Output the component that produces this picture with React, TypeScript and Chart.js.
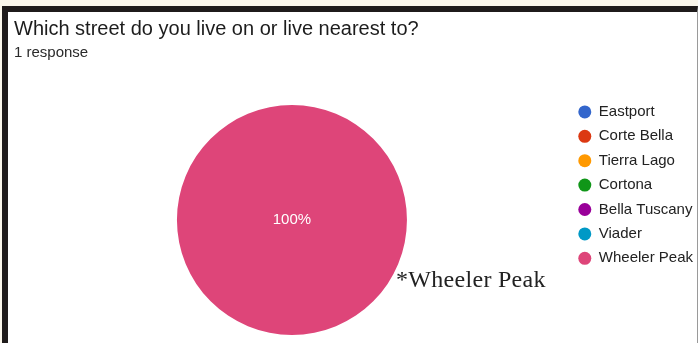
import React, { useEffect, useRef } from "react";
import { Chart, registerables } from "chart.js";

Chart.register(...registerables);

const categories = [
  "Eastport",
  "Corte Bella",
  "Tierra Lago",
  "Cortona",
  "Bella Tuscany",
  "Viader",
  "Wheeler Peak",
];
const responses = [0, 0, 0, 0, 0, 0, 1];
const sliceColors = ["#3366cc", "#dc3912", "#ff9900", "#109618", "#990099", "#0099c6", "#de4579"];
const titleText = "Which street do you live on or live nearest to?";
const subtitleText = "1 response";
const noteText = "*Wheeler Peak";

const pctPlugin = {
  id: "pctLabels",
  afterDatasetsDraw(chart: any) {
    const ctx = chart.ctx;
    const meta = chart.getDatasetMeta(0);
    const data = chart.data.datasets[0].data as number[];
    const total = data.reduce((a, b) => a + b, 0);
    meta.data.forEach((arc: any, i: number) => {
      const v = data[i];
      if (!v) return;
      const pct = Math.round((v / total) * 100);
      const full = arc.circumference >= 2 * Math.PI - 1e-6;
      const pos = full ? { x: arc.x, y: arc.y } : arc.tooltipPosition();
      ctx.save();
      ctx.fillStyle = "#ffffff";
      ctx.font = "15px 'Liberation Sans', Arial, sans-serif";
      ctx.textAlign = "center";
      ctx.textBaseline = "middle";
      ctx.fillText(pct + "%", pos.x, pos.y);
      ctx.restore();
    });
  },
};

export default function App() {
  const canvasRef = useRef<HTMLCanvasElement>(null);

  useEffect(() => {
    if (!canvasRef.current) return;
    const chart = new Chart(canvasRef.current, {
      type: "pie",
      data: {
        labels: categories,
        datasets: [
          {
            data: responses,
            backgroundColor: sliceColors,
            borderWidth: 0,
            radius: 115,
          } as any,
        ],
      },
      options: {
        animation: false,
        responsive: false,
        devicePixelRatio: 1,
        events: [],
        layout: { padding: { top: 95, left: 15, right: 6, bottom: 5 } },
        plugins: {
          tooltip: { enabled: false },
          title: { display: false },
          legend: {
            position: "right",
            align: "start",
            labels: {
              usePointStyle: true,
              pointStyle: "circle",
              boxWidth: 9.2,
              boxHeight: 9.2,
              pointStyleWidth: 13,
              padding: 9.4,
              color: "#222222",
              font: { family: "'Liberation Sans', Arial, sans-serif", size: 15 },
            },
          },
        },
      } as any,
      plugins: [pctPlugin as any],
    });
    return () => chart.destroy();
  }, []);

  return (
    <div
      style={{
        position: "fixed",
        left: 0,
        top: 0,
        width: 698,
        height: 343,
        overflow: "hidden",
        background: "#fbf7ec",
      }}
    >
      <div
        style={{
          position: "absolute",
          left: 2,
          top: 6,
          width: 696,
          height: 400,
          boxSizing: "border-box",
          background: "#ffffff",
          borderTop: "6px solid #1f1b1b",
          borderLeft: "6px solid #1f1b1b",
          borderRight: "1px solid #9a9a9a",
        }}
      />
      <canvas
        ref={canvasRef}
        width={709}
        height={350}
        style={{ position: "absolute", left: 0, top: 0, width: 709, height: 350 }}
      />
      <div
        style={{
          position: "absolute",
          left: 14,
          top: 16.9,
          fontFamily: "'Liberation Sans', Arial, sans-serif",
          fontSize: 20,
          lineHeight: "normal",
          color: "#1c1c1c",
          whiteSpace: "nowrap",
        }}
      >
        {titleText}
      </div>
      <div
        style={{
          position: "absolute",
          left: 14,
          top: 43.4,
          fontFamily: "'Liberation Sans', Arial, sans-serif",
          fontSize: 15,
          lineHeight: "normal",
          color: "#2a2a2a",
          whiteSpace: "nowrap",
        }}
      >
        {subtitleText}
      </div>
      <div
        style={{
          position: "absolute",
          left: 396,
          top: 265.6,
          fontFamily: "'Liberation Serif', 'DejaVu Serif', serif",
          fontSize: 24,
          lineHeight: "normal",
          color: "#222222",
          whiteSpace: "nowrap",
          letterSpacing: 0.3,
        }}
      >
        {noteText}
      </div>
    </div>
  );
}
